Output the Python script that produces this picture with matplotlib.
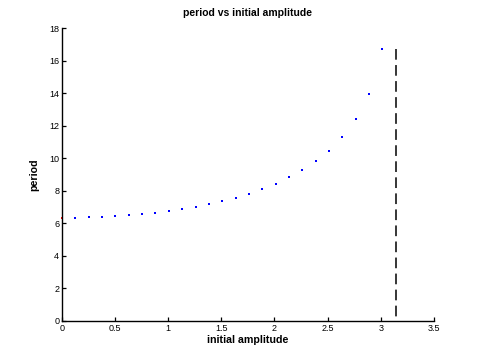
import matplotlib
matplotlib.use("Agg")
import matplotlib.pyplot as plt
import numpy as np

# values
amplitude = [0.126, 0.251, 0.377, 0.503, 0.628, 0.754, 0.880, 1.005,
             1.131, 1.257, 1.382, 1.508, 1.634, 1.759, 1.885, 2.011,
             2.136, 2.262, 2.388, 2.513, 2.639, 2.765, 2.890, 3.016]
period = [6.33, 6.39, 6.39, 6.45, 6.51, 6.57, 6.63, 6.76,
          6.88, 7.00, 7.19, 7.37, 7.56, 7.80, 8.11, 8.42,
          8.85, 9.28, 9.83, 10.44, 11.30, 12.41, 13.94, 16.71]
start_amp = [0.0]
start_period = [6.3]
limit_x = [np.pi, np.pi]
limit_y = [16.71, 0]

plt.rcParams['font.family'] = ['Liberation Sans', 'DejaVu Sans']

fig = plt.figure(figsize=(4.8, 3.61), dpi=100)
ax = fig.add_axes([0.129, 0.111, 0.775, 0.811])

ax.plot(amplitude, period, linestyle='none', marker='s', ms=1.5, mew=0,
        color='blue', antialiased=False)
ax.plot(start_amp, start_period, linestyle='none', marker='s', ms=1.5, mew=0,
        color='red', clip_on=False, antialiased=False)
ax.plot(limit_x, limit_y, color='black', lw=1.1, dashes=(7, 3.5))

ax.set_xlim(0, 3.5)
ax.set_ylim(0, 18)
ax.set_xticks(np.arange(0, 3.51, 0.5))
ax.set_xticklabels(['0', '0.5', '1', '1.5', '2', '2.5', '3', '3.5'])
ax.set_yticks(np.arange(0, 19, 2))

ax.spines['top'].set_visible(False)
ax.spines['right'].set_visible(False)
ax.spines['left'].set_linewidth(1.0)
ax.spines['bottom'].set_linewidth(1.0)
ax.tick_params(direction='in', length=3, width=0.9, labelsize=6.5, pad=2)

ax.set_title('period vs initial amplitude', fontsize=7.5, fontweight='bold', pad=9)
ax.set_xlabel('initial amplitude', fontsize=7.7, fontweight='bold', labelpad=2)
ax.set_ylabel('period', fontsize=7.7, fontweight='bold', labelpad=7)

fig.savefig('out.png', dpi=100)
